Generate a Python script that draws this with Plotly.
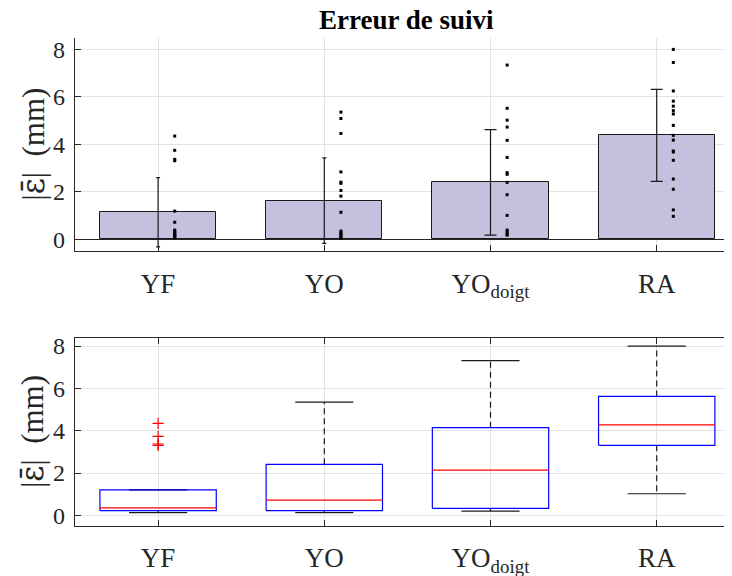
import plotly.graph_objects as go

# ---- data ----
categories = ["YF", "YO", "YOd", "RA"]
tick_labels = ["YF", "YO", "YO<sub>doigt</sub>", "RA"]

means = [1.14, 1.63, 2.40, 4.38]
stds = [1.46, 1.80, 2.22, 1.94]

pts_YF = [4.35, 3.75, 3.37, 3.31, 1.19, 0.72, 0.39, 0.33, 0.27, 0.22, 0.18, 0.14, 0.10, 0.06]
pts_YO = [5.36, 5.09, 4.46, 2.84, 2.41, 2.36, 2.06, 1.82, 1.14, 0.35, 0.28, 0.22, 0.16, 0.10, 0.05]
pts_YOd = [7.34, 5.52, 5.02, 4.73, 4.17, 3.45, 2.81, 2.74, 2.40, 1.88, 1.01, 0.39, 0.30, 0.22, 0.18]
pts_RA = [8.00, 7.45, 6.25, 5.82, 5.61, 5.42, 5.28, 4.80, 4.38, 4.18, 3.72, 3.68, 3.33, 2.54, 2.11, 1.24, 0.97]
points = [pts_YF, pts_YO, pts_YOd, pts_RA]

# box-plot statistics
q1 = [0.22, 0.22, 0.33, 3.31]
med = [0.35, 0.72, 2.14, 4.27]
q3 = [1.20, 2.41, 4.14, 5.62]
wlo = [0.13, 0.13, 0.20, 1.02]
whi = [1.20, 5.35, 7.31, 8.00]
outliers_YF = [4.35, 3.73, 3.37, 3.31]

# ---- style ----
FONT = "Liberation Serif"
AX = "#262626"
GRID = "#e3e3e3"
cap_widths = [2, 2, 6, 6]
BW = 0.35   # half box width
CW = 0.175  # half whisker cap width
xpos = [i + 1 for i in range(len(categories))]

W, H = 724, 568   # page body has an 8px margin
fig = go.Figure()

# top panel: bars
fig.add_trace(go.Bar(x=xpos, y=means, width=0.7,
                     marker=dict(color="rgb(195,193,222)", line=dict(color="#1a1a1a", width=1)),
                     xaxis="x", yaxis="y", showlegend=False))
for i, x in enumerate(xpos):
    fig.add_trace(go.Scatter(x=[x], y=[means[i]], mode="markers",
                             marker=dict(size=0.1, color="rgba(0,0,0,0)"),
                             error_y=dict(type="data", array=[stds[i]], color="#1a1a1a",
                                          thickness=1.2, width=cap_widths[i]),
                             xaxis="x", yaxis="y", showlegend=False, hoverinfo="skip"))
for i, x in enumerate(xpos):
    fig.add_trace(go.Scatter(x=[x + 0.1] * len(points[i]), y=points[i], mode="markers",
                             marker=dict(symbol="square", size=3, color="black"),
                             xaxis="x", yaxis="y", showlegend=False))

# bottom panel: boxplots
for i, x in enumerate(xpos):
    fig.add_trace(go.Scatter(x=[x, x, None, x, x], y=[q3[i], whi[i], None, q1[i], wlo[i]],
                             mode="lines", line=dict(color="#1a1a1a", width=1.2, dash="6px,4px"),
                             xaxis="x2", yaxis="y2", showlegend=False, hoverinfo="skip"))
    fig.add_trace(go.Scatter(x=[x - CW, x + CW, None, x - CW, x + CW],
                             y=[whi[i], whi[i], None, wlo[i], wlo[i]],
                             mode="lines", line=dict(color="#1a1a1a", width=1.2),
                             xaxis="x2", yaxis="y2", showlegend=False, hoverinfo="skip"))
    fig.add_trace(go.Scatter(x=[x - BW, x + BW, x + BW, x - BW, x - BW],
                             y=[q1[i], q1[i], q3[i], q3[i], q1[i]],
                             mode="lines", line=dict(color="#0000ff", width=1.2),
                             xaxis="x2", yaxis="y2", showlegend=False, hoverinfo="skip"))
    fig.add_trace(go.Scatter(x=[x - BW, x + BW], y=[med[i], med[i]],
                             mode="lines", line=dict(color="#ff0000", width=1.2),
                             xaxis="x2", yaxis="y2", showlegend=False, hoverinfo="skip"))
fig.add_trace(go.Scatter(x=[xpos[0]] * len(outliers_YF), y=outliers_YF, mode="markers",
                         marker=dict(symbol="cross-thin", size=8, line=dict(color="#ff0000", width=1.2)),
                         xaxis="x2", yaxis="y2", showlegend=False))

ytitle = "|<span style='font-family:DejaVu Serif'>ε\u0304</span>|  (mm)"
common_x = dict(range=[0.5, 4.453], tickvals=xpos, ticktext=tick_labels, ticks="inside",
                ticklen=6, tickcolor=AX, showgrid=True, gridcolor=GRID, zeroline=False,
                showline=True, linecolor=AX, linewidth=1.3, automargin=False,
                tickfont=dict(family=FONT, size=27, color=AX), ticklabelstandoff=8)
common_y = dict(tickvals=[0, 2, 4, 6, 8], ticks="inside", ticklen=6, tickcolor=AX,
                showgrid=True, gridcolor=GRID, showline=True, linecolor=AX, linewidth=1.3,
                automargin=False, ticklabelstandoff=4,
                tickfont=dict(family=FONT, size=24, color=AX))

L = 67
top_dom = [1 - 243 / H, 1 - 30 / H]
bot_dom = [1 - 517.7 / H, 1 - 330 / H]

fig.update_layout(
    width=W, height=H,
    margin=dict(l=L, r=0, t=0, b=0, autoexpand=False),
    paper_bgcolor="white", plot_bgcolor="white",
    xaxis=dict(domain=[0, 1], anchor="y", **common_x),
    yaxis=dict(domain=top_dom, anchor="x", range=[-0.49, 8.48],
               zeroline=True, zerolinecolor=AX, zerolinewidth=1, **common_y),
    xaxis2=dict(domain=[0, 1], anchor="y2", mirror="allticks", **common_x),
    yaxis2=dict(domain=bot_dom, anchor="x2", range=[-0.49, 8.38], zeroline=False,
                mirror="allticks", **common_y),
    bargap=0,
)

PW = W - L
fig.add_annotation(text="<b>Erreur de suivi</b>", xref="paper", yref="paper",
                   x=(398 - L) / PW, y=1 - 12 / H, xanchor="center", yanchor="middle", showarrow=False,
                   font=dict(family=FONT, size=27, color="black"))
for dom in (top_dom, bot_dom):
    fig.add_annotation(text=ytitle, xref="paper", yref="paper", textangle=-90,
                       x=(24 - L) / PW, y=(dom[0] + dom[1]) / 2, xanchor="center", yanchor="middle",
                       showarrow=False, font=dict(family=FONT, size=31, color=AX))

fig.write_html("out.html")
